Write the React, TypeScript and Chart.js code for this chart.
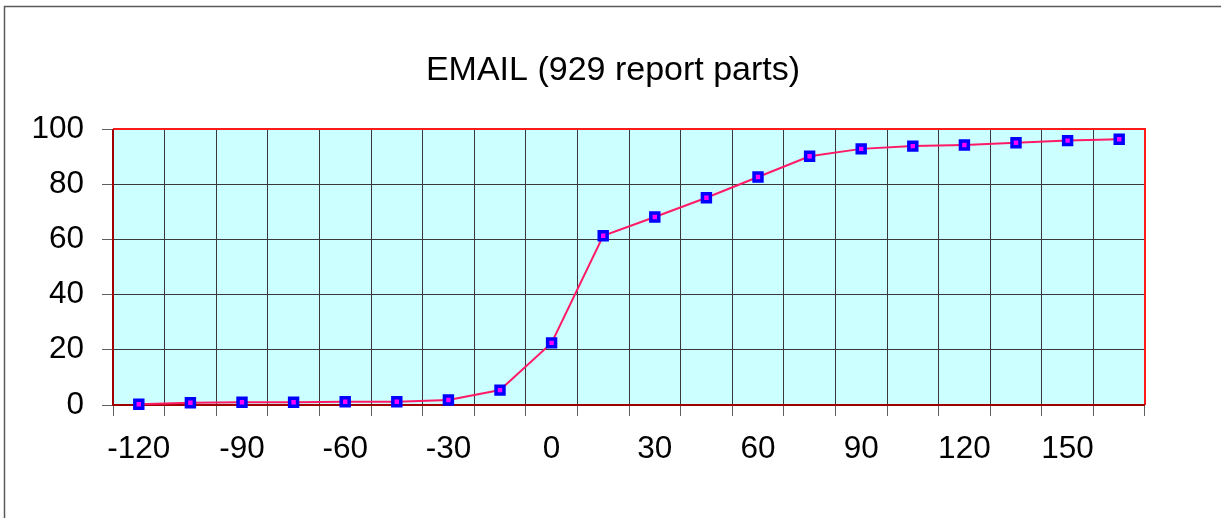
import React, { useEffect, useRef } from "react";
import { Chart, registerables } from "chart.js";

Chart.register(...registerables);

const categories = [
  "-120", "-105", "-90", "-75", "-60", "-45", "-30", "-15", "0", "15",
  "30", "45", "60", "75", "90", "105", "120", "135", "150", "165",
];
const shownLabels = ["-120", "-90", "-60", "-30", "0", "30", "60", "90", "120", "150"];
const percentValues = [
  0.3, 0.8, 1.0, 1.0, 1.2, 1.2, 1.8, 5.4, 22.5, 61.3,
  68.1, 75.1, 82.6, 90.1, 92.8, 93.8, 94.2, 95.0, 95.8, 96.3,
];
const yMin = 0;
const yMax = 100;
const yStep = 20;
const titleText = "EMAIL (929 report parts)";

const FONT = "'Liberation Sans', Arial, sans-serif";

const decorPlugin = {
  id: "decor",
  beforeDraw(chart: any) {
    const { ctx, chartArea } = chart;
    ctx.save();
    ctx.fillStyle = "#ffffff";
    ctx.fillRect(0, 0, chart.width, chart.height);
    // outer frame
    ctx.strokeStyle = "#5a5a5a";
    ctx.lineWidth = 1.5;
    ctx.beginPath();
    ctx.moveTo(4.5, chart.height + 2);
    ctx.lineTo(4.5, 6.5);
    ctx.lineTo(chart.width + 2, 6.5);
    ctx.stroke();
    // plot background
    ctx.fillStyle = "#ccffff";
    ctx.fillRect(chartArea.left, chartArea.top, chartArea.right - chartArea.left, chartArea.bottom - chartArea.top);
    // title
    ctx.fillStyle = "#000000";
    ctx.font = `normal 34px ${FONT}`;
    ctx.textAlign = "center";
    ctx.textBaseline = "middle";
    ctx.fillText(titleText, 613, 71);
    ctx.restore();
  },
  beforeDatasetsDraw(chart: any) {
    const { ctx, chartArea } = chart;
    const { left, right, top, bottom } = chartArea;
    ctx.save();
    ctx.lineWidth = 2;
    ctx.strokeStyle = "#ff1a1a";
    ctx.beginPath();
    ctx.moveTo(left, top);
    ctx.lineTo(right, top);
    ctx.lineTo(right, bottom);
    ctx.stroke();
    ctx.strokeStyle = "#a00000";
    ctx.beginPath();
    ctx.moveTo(left, top);
    ctx.lineTo(left, bottom);
    ctx.lineTo(right, bottom);
    ctx.stroke();
    ctx.restore();
  },
};

export default function App() {
  const canvasRef = useRef<HTMLCanvasElement | null>(null);

  useEffect(() => {
    document.body.style.margin = "0";
    const canvas = canvasRef.current;
    if (!canvas) return;
    const chart = new Chart(canvas, {
      type: "line",
      data: {
        labels: categories,
        datasets: [
          {
            data: percentValues,
            borderColor: "#ff1a66",
            borderWidth: 2,
            pointStyle: "rect",
            pointRadius: 5.6,
            pointBorderWidth: 3.5,
            pointBorderColor: "#0000ff",
            pointBackgroundColor: "#ff00ff",
            pointHoverRadius: 5.6,
            tension: 0,
            clip: false,
          } as any,
        ],
      },
      options: {
        animation: false,
        responsive: false,
        maintainAspectRatio: false,
        layout: { padding: { left: 0, right: 76, top: 129, bottom: 0 } },
        plugins: {
          legend: { display: false },
          tooltip: { enabled: false },
          title: { display: false },
        },
        scales: {
          x: {
            type: "category",
            offset: true,
            border: { display: false },
            grid: {
              offset: true,
              color: "#383838",
              lineWidth: 1,
              drawTicks: true,
              tickLength: 11,
              tickColor: "#606060",
            },
            ticks: {
              autoSkip: false,
              maxRotation: 0,
              minRotation: 0,
              padding: 14,
              color: "#000000",
              font: { family: FONT, size: 31.5 },
              callback: (_v: any, i: number) =>
                shownLabels.includes(categories[i]) ? categories[i] : "",
            },
            afterFit: (s: any) => {
              s.height = 113;
            },
          },
          y: {
            min: yMin,
            max: yMax,
            border: { display: false },
            grid: {
              color: "#383838",
              lineWidth: 1,
              drawTicks: true,
              tickLength: 11,
              tickColor: "#606060",
            },
            ticks: {
              stepSize: yStep,
              padding: 18,
              color: "#000000",
              font: { family: FONT, size: 31.5 },
            },
            afterFit: (s: any) => {
              s.width = 113;
            },
          },
        },
      },
      plugins: [decorPlugin],
    });
    return () => chart.destroy();
  }, []);

  return (
    <div style={{ position: "absolute", left: 0, top: 0, width: 1221, height: 518 }}>
      <canvas ref={canvasRef} width={1221} height={518} style={{ display: "block" }} />
    </div>
  );
}
